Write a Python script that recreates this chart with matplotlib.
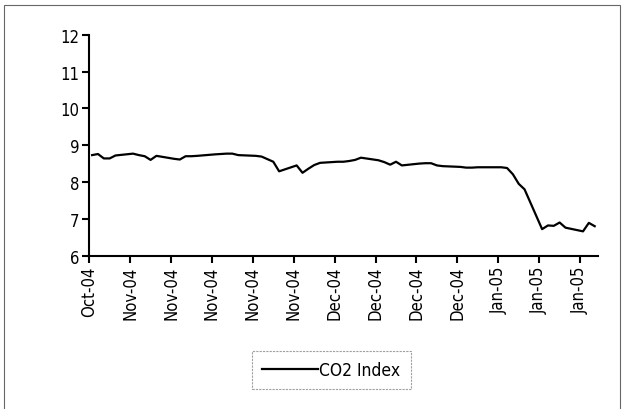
import matplotlib
matplotlib.use("Agg")
import matplotlib.pyplot as plt
import matplotlib.dates as mdates
from matplotlib.patches import Rectangle
import pandas as pd

plt.rcParams['font.family'] = ['DejaVu Sans']
plt.rcParams['font.stretch'] = 'condensed'

# trading days, 25 Oct 2004 to 19 Jan 2005
days = pd.bdate_range('2004-10-25', '2005-01-19')
co2 = [
    8.73, 8.76, 8.64, 8.64, 8.72,   # Oct 25-29
    8.77, 8.73, 8.70, 8.60, 8.71,   # Nov 1-5
    8.63, 8.61, 8.70, 8.70, 8.71,   # Nov 8-12
    8.75, 8.76, 8.77, 8.77, 8.73,   # Nov 15-19
    8.71, 8.69, 8.62, 8.55, 8.29,   # Nov 22-26
    8.45, 8.25, 8.36, 8.46, 8.52,   # Nov 29-Dec 3
    8.55, 8.55, 8.57, 8.60, 8.66,   # Dec 6-10
    8.59, 8.54, 8.47, 8.55, 8.45,   # Dec 13-17
    8.50, 8.51, 8.51, 8.45, 8.43,   # Dec 20-24
    8.41, 8.39, 8.39, 8.40, 8.40,   # Dec 27-31
    8.40, 8.38, 8.21, 7.95, 7.80,   # Jan 3-7
    6.72, 6.82, 6.81, 6.90, 6.76,   # Jan 10-14
    6.66, 6.89, 6.80,               # Jan 17-19
]
tick_days = pd.date_range('2004-10-25', periods=13, freq='7D')
y_ticks = [6, 7, 8, 9, 10, 11, 12]

fig = plt.figure(figsize=(6.3, 4.1), dpi=100)
ax = fig.add_axes([0.1416, 0.374, 0.807, 0.539])

# excel style: points sit in the middle of their day
x = days + pd.Timedelta(hours=12)
ax.plot(x, co2, color='black', lw=1.6, label='CO2 Index')

ax.set_ylim(6, 12)
ax.set_yticks(y_ticks)
ax.set_xlim(days[0], days[-1] + pd.Timedelta(days=1))
ax.set_xticks(tick_days)
ax.xaxis.set_major_formatter(mdates.DateFormatter('%b-%y'))

for s in ['top', 'right']:
    ax.spines[s].set_visible(False)
for s in ['left', 'bottom']:
    ax.spines[s].set_linewidth(1.5)
ax.tick_params(axis='both', direction='out', length=5, width=1.5, labelsize=12, pad=2)
plt.setp(ax.get_xticklabels(), rotation=90)

leg = fig.legend(loc='center', bbox_to_anchor=(0.526, 0.095), fontsize=12.5,
                 frameon=True, fancybox=False, handlelength=3.2, handletextpad=0.1,
                 borderpad=0.6)
leg.get_frame().set_edgecolor('#888888')
leg.get_frame().set_linewidth(0.8)
leg.get_frame().set_linestyle((0, (2, 1)))

# outer chart frame
fig.patches.append(Rectangle((0.007, -0.05), 0.977, 1.035, transform=fig.transFigure,
                             fill=False, edgecolor='#666666', lw=0.8))

fig.savefig('out.png', dpi=100)
